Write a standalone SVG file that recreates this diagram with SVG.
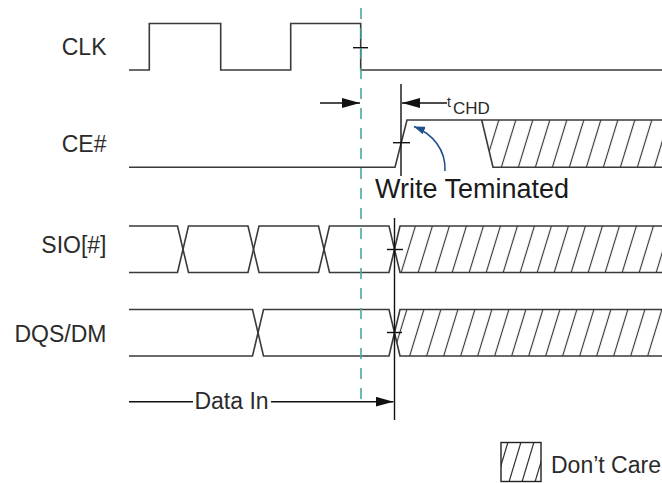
<svg xmlns="http://www.w3.org/2000/svg" width="662" height="483" viewBox="0 0 662 483">
  <style>
    .lbl { font-family: "Liberation Sans", Arial, sans-serif; font-size: 23px; fill: #2b2b2b; }
    .wave { fill: none; stroke: #3a3a3a; stroke-width: 1.6; stroke-linejoin: miter; }
    .blk { fill: none; stroke: #111; stroke-width: 1.4; }
    .hatchfill { fill: url(#hatch); stroke: none; }
  </style>
  <defs>
    <pattern id="hatch" patternUnits="userSpaceOnUse" width="17" height="10" patternTransform="skewX(-17)">
      <line x1="8.5" y1="-1" x2="8.5" y2="11" stroke="#333" stroke-width="1.2"/>
    </pattern>
    <marker id="arr" markerUnits="userSpaceOnUse" viewBox="0 0 18 10" markerWidth="18" markerHeight="10" refX="18" refY="5" orient="auto">
      <path d="M0,0 L18,5 L0,10 Z" fill="#111"/>
    </marker>
    <marker id="barr" markerUnits="userSpaceOnUse" viewBox="0 0 11 8" markerWidth="11" markerHeight="8" refX="11" refY="4" orient="auto">
      <path d="M0,0 L11,4 L0,8 Z" fill="#1f4f8f"/>
    </marker>
    <clipPath id="legclip"><rect x="501" y="442.5" width="40" height="39"/></clipPath>
  </defs>

  <g id="labels">
    <text class="lbl" x="106.5" y="55" text-anchor="end">CLK</text>
    <text class="lbl" x="106.5" y="151.5" text-anchor="end">CE#</text>
    <text class="lbl" x="106.5" y="253" text-anchor="end">SIO[#]</text>
    <text class="lbl" x="106.5" y="341.5" text-anchor="end">DQS/DM</text>
  </g>

  <g id="clk">
    <path class="wave" stroke="#222" d="M129,70 H149.3 V23.5 H220.7 V70 H290.7 V23.5 H360.7 V70 H662"/>
    <line class="blk" x1="353" y1="47.7" x2="368" y2="47.7" stroke="#333"/>
  </g>

  <g id="ce">
    <path class="hatchfill" d="M481.7,120 H662 V167.3 H493 Z"/>
    <path class="wave" stroke="#222" d="M129,167.3 H395 L407,120 H662"/>
    <path class="wave" stroke="#222" d="M481.7,120 L493,167.3 H662"/>
    <line class="blk" x1="393" y1="142.7" x2="410" y2="142.7" stroke="#333"/>
  </g>

  <g id="sio">
    <path class="hatchfill" d="M394.5,249.3 L400,226 H662 V272.5 H400 Z"/>
    <path class="wave" d="M129,226 H177.5 L188.5,272.5 H248 L259,226 H318.5 L329.5,272.5 H389 L400,226 H662"/>
    <path class="wave" d="M129,272.5 H177.5 L188.5,226 H248 L259,272.5 H318.5 L329.5,226 H389 L400,272.5 H662"/>
    <line class="blk" x1="387" y1="249.5" x2="403" y2="249.5" stroke="#333"/>
  </g>

  <g id="dqs">
    <path class="hatchfill" d="M394.5,332.7 L400,309.5 H662 V356 H400 Z"/>
    <path class="wave" d="M129,309.5 H252.5 L263.5,356 H389 L400,309.5 H662"/>
    <path class="wave" d="M129,356 H252.5 L263.5,309.5 H389 L400,356 H662"/>
    <line class="blk" x1="387" y1="332.5" x2="402" y2="332.5" stroke="#333"/>
  </g>

  <g id="connectors">
    <line x1="361" y1="8" x2="361" y2="400" stroke="#4aa89e" stroke-width="1.6" stroke-dasharray="11 9"/>
    <line class="blk" x1="401" y1="84" x2="401" y2="176"/>
    <line class="blk" x1="394.5" y1="218" x2="394.5" y2="420"/>
    <line class="blk" x1="320" y1="103" x2="360" y2="103" marker-end="url(#arr)"/>
    <line class="blk" x1="447" y1="103" x2="402" y2="103" marker-end="url(#arr)"/>
    <line class="blk" x1="129" y1="401.7" x2="193" y2="401.7"/>
    <line class="blk" x1="271" y1="401.7" x2="393.5" y2="401.7" marker-end="url(#arr)"/>
    <path d="M445,171 C446,150 433,134 414,126.5" fill="none" stroke="#1f4f8f" stroke-width="1.6" marker-end="url(#barr)"/>
  </g>

  <g id="annotations">
    <text x="447" y="107" font-family="Liberation Sans, Arial, sans-serif" font-size="14" fill="#2b2b2b">t</text>
    <text x="453" y="113.5" font-family="Liberation Sans, Arial, sans-serif" font-size="17" fill="#2b2b2b">CHD</text>
    <text x="375" y="198" font-family="Liberation Sans, Arial, sans-serif" font-size="27" fill="#1a1a1a">Write Teminated</text>
    <text class="lbl" x="231.5" y="409" text-anchor="middle" font-size="22">Data In</text>
  </g>

  <g id="legend">
    <g clip-path="url(#legclip)" stroke="#333" stroke-width="1.2">
      <line x1="496" y1="482" x2="508" y2="442"/>
      <line x1="509" y1="482" x2="521" y2="442"/>
      <line x1="522" y1="482" x2="534" y2="442"/>
      <line x1="535" y1="482" x2="547" y2="442"/>
    </g>
    <rect x="501" y="442.5" width="40" height="39" fill="none" stroke="#222" stroke-width="1.4"/>
    <text class="lbl" x="551" y="472.7">Don’t Care</text>
  </g>
</svg>
